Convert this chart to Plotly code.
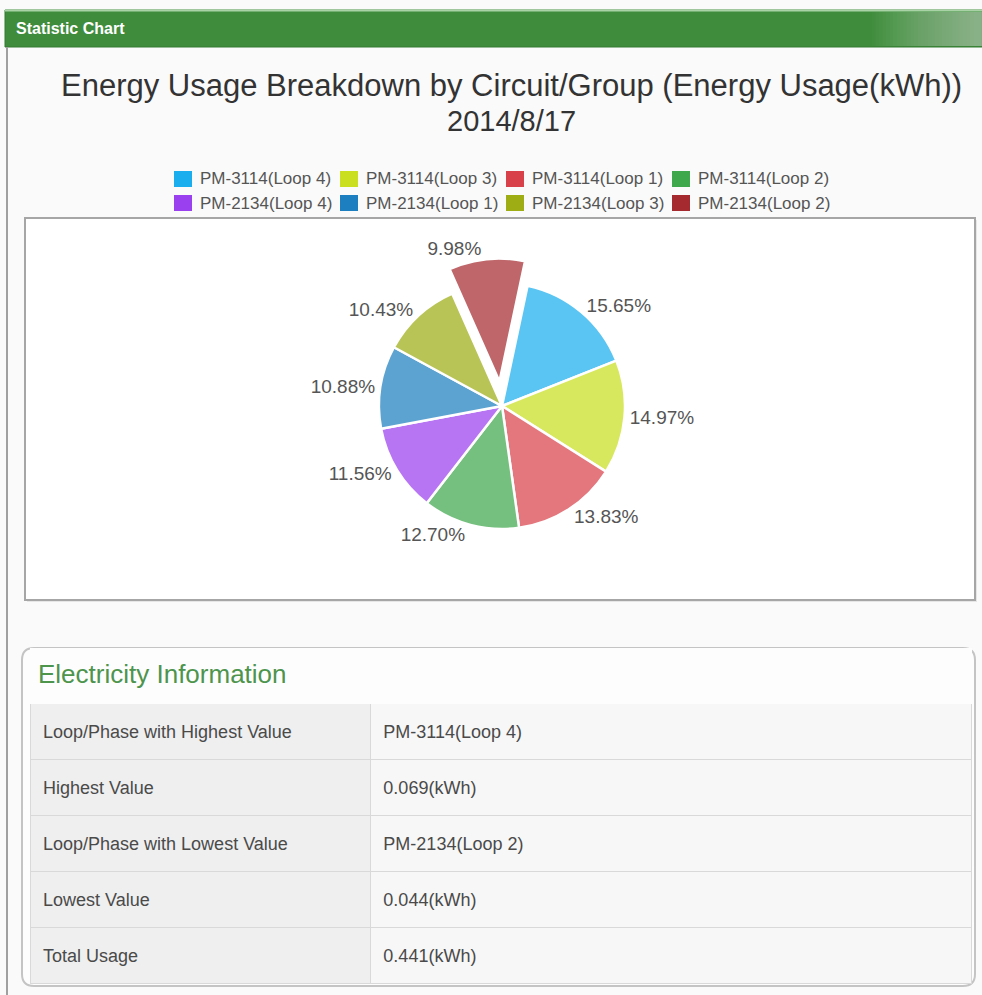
import plotly.graph_objects as go

# ---- data ----
circuits = [
    "PM-3114(Loop 4)", "PM-3114(Loop 3)", "PM-3114(Loop 1)", "PM-3114(Loop 2)",
    "PM-2134(Loop 4)", "PM-2134(Loop 1)", "PM-2134(Loop 3)", "PM-2134(Loop 2)",
]
share_pct = [15.65, 14.97, 13.83, 12.70, 11.56, 10.88, 10.43, 9.98]
series_colors = [
    "#1aaeef", "#c9df1f", "#d9414a", "#40a84c",
    "#9b40ee", "#1e7fc0", "#9ead14", "#a52a2f",
]
pulled = "PM-2134(Loop 2)"

info_labels = [
    "Loop/Phase with Highest Value", "Highest Value",
    "Loop/Phase with Lowest Value", "Lowest Value", "Total Usage",
]
info_values = ["PM-3114(Loop 4)", "0.069(kWh)", "PM-2134(Loop 2)", "0.044(kWh)", "0.441(kWh)"]

title_text = "Energy Usage Breakdown by Circuit/Group (Energy Usage(kWh))"
date_text = "2014/8/17"

W, H = 982, 995
FONT = "Liberation Sans, Arial, sans-serif"


def X(p):
    return p / W


def Y(p):
    return 1 - p / H


def soften(hex_color, a=0.72):
    h = hex_color.lstrip("#")
    r, g, b = (int(h[i:i + 2], 16) for i in (0, 2, 4))
    return "rgb({},{},{})".format(*(round(a * c + (1 - a) * 255) for c in (r, g, b)))


def cell_text(s, size, indent="\u00a0"):
    # a small blank first line pushes the text down towards the row middle
    return "\u00a0<br><span style='font-size:{}px'>{}{}</span>".format(size, indent, s)


fig = go.Figure()

# pie: centre (502, 406), radius ~123 with room for the pulled slice
half = 123 * 1.2
fig.add_trace(go.Pie(
    labels=circuits,
    values=share_pct,
    sort=False,
    direction="clockwise",
    rotation=12,
    pull=[0.2 if c == pulled else 0 for c in circuits],
    marker=dict(colors=[soften(c) for c in series_colors], line=dict(color="white", width=2.5)),
    texttemplate="%{value:.2f}%",
    textposition="outside",
    textfont=dict(family=FONT, size=19, color="#555555"),
    domain=dict(x=[X(502 - half), X(502 + half)], y=[Y(406 + half), Y(406 - half)]),
    showlegend=False,
    hoverinfo="label+value",
))

# information table
fig.add_trace(go.Table(
    domain=dict(x=[X(30), X(972)], y=[Y(988), Y(648)]),
    columnwidth=[340, 600],
    header=dict(
        values=[cell_text("Electricity Information", 26, indent=""), ""],
        align="left",
        height=55,
        fill_color="#fdfdfd",
        line=dict(color="#fdfdfd", width=1),
        font=dict(family=FONT, size=12, color="#4d944d"),
    ),
    cells=dict(
        values=[[cell_text(s, 18) for s in info_labels], [cell_text(s, 18) for s in info_values]],
        align="left",
        height=56,
        fill_color=[["#efefef"] * len(info_labels), ["#f7f7f7"] * len(info_values)],
        line=dict(color="#d9d9d9", width=1),
        font=dict(family=FONT, size=12, color="#4a4a4a"),
    ),
))

shapes = []
annotations = []

# header bar with a light fade at its right end
shapes.append(dict(type="rect", xref="paper", yref="paper", x0=X(5), x1=X(982), y0=Y(47), y1=Y(10),
                   fillcolor="#3f8c3c", line=dict(color="#357a33", width=1), layer="below"))
shapes.append(dict(type="line", xref="paper", yref="paper", x0=X(5), x1=X(982), y0=Y(10.5), y1=Y(10.5),
                   line=dict(color="#a9d3a6", width=2), layer="below"))
for k in range(30):
    x0 = 872 + k * 3.5
    shapes.append(dict(type="rect", xref="paper", yref="paper", x0=X(x0), x1=X(982), y0=Y(46), y1=Y(12),
                       fillcolor="rgba(255,255,255,0.018)", line=dict(width=0), layer="below"))
annotations.append(dict(text="<b>Statistic Chart</b>", x=X(14), y=Y(29), xref="paper", yref="paper",
                        xanchor="left", yanchor="middle", showarrow=False,
                        font=dict(family=FONT, size=16, color="white")))

# left page border
shapes.append(dict(type="line", xref="paper", yref="paper", x0=X(7), x1=X(7), y0=Y(47), y1=Y(995),
                   line=dict(color="#a0a0a0", width=2), layer="below"))

# titles
annotations.append(dict(text=title_text, x=X(512), y=Y(85), xref="paper", yref="paper",
                        xanchor="center", yanchor="middle", showarrow=False,
                        font=dict(family=FONT, size=31, color="#333333")))
annotations.append(dict(text=date_text, x=X(512), y=Y(121), xref="paper", yref="paper",
                        xanchor="center", yanchor="middle", showarrow=False,
                        font=dict(family=FONT, size=29, color="#333333")))

# legend (two rows of four)
for i, (name, col) in enumerate(zip(circuits, series_colors)):
    row, c = divmod(i, 4)
    x0 = 174 + 166 * c
    yc = 179 + 24 * row
    shapes.append(dict(type="rect", xref="paper", yref="paper", x0=X(x0), x1=X(x0 + 18),
                       y0=Y(yc + 8), y1=Y(yc - 8), fillcolor=col, line=dict(width=0)))
    annotations.append(dict(text=name, x=X(x0 + 24), y=Y(yc), xref="paper", yref="paper",
                            xanchor="left", yanchor="middle", showarrow=False,
                            font=dict(family=FONT, size=17, color="#555555")))

# chart frame
shapes.append(dict(type="rect", xref="paper", yref="paper", x0=X(27), x1=X(977), y0=Y(602), y1=Y(220),
                   fillcolor="#e6e6e6", line=dict(width=0), layer="below"))
shapes.append(dict(type="rect", xref="paper", yref="paper", x0=X(25), x1=X(975), y0=Y(600), y1=Y(218),
                   fillcolor="#ffffff", line=dict(color="#a6a6a6", width=2), layer="below"))

# rounded frame of the information table
L, R, T, B, rad = 22, 975, 648, 986, 12
pts = [
    ("M", L + rad, T), ("L", R - rad, T), ("Q", R, T, R, T + rad), ("L", R, B - rad),
    ("Q", R, B, R - rad, B), ("L", L + rad, B), ("Q", L, B, L, B - rad), ("L", L, T + rad),
    ("Q", L, T, L + rad, T),
]
path = ""
for p in pts:
    cmd, coords = p[0], p[1:]
    xy = []
    for j in range(0, len(coords), 2):
        xy.append("{:.5f},{:.5f}".format(X(coords[j]), Y(coords[j + 1])))
    path += cmd + " ".join(xy) + " "
path += "Z"
shapes.append(dict(type="path", xref="paper", yref="paper", path=path,
                   fillcolor="#fdfdfd", line=dict(color="#c4c4c4", width=2), layer="below"))

fig.update_layout(
    width=W, height=H,
    margin=dict(l=0, r=0, t=0, b=0),
    paper_bgcolor="#fafafa",
    plot_bgcolor="#fafafa",
    shapes=shapes,
    annotations=annotations,
    font=dict(family=FONT),
)

fig.write_html("out.html")
